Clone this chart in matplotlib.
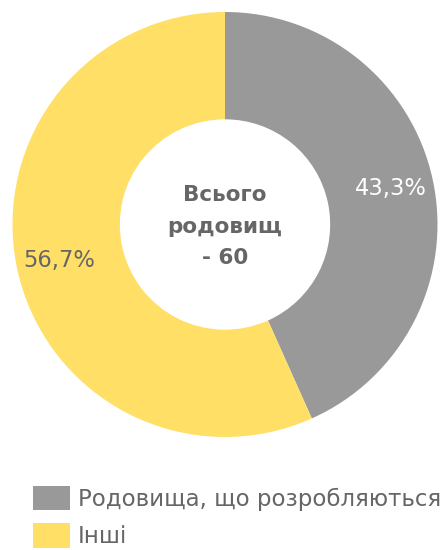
import matplotlib
matplotlib.use("Agg")
import matplotlib.pyplot as plt
import numpy as np

labels = ["Родовища, що розробляються", "Інші"]
values = [43.3, 56.7]
pct_labels = ["43,3%", "56,7%"]
colors = ["#999999", "#FFDF66"]
pct_colors = ["#FFFFFF", "#666666"]
center_text = "Всього\nродовищ\n- 60"

plt.rcParams['font.family'] = ['DejaVu Sans']

W, H = 445, 550
fig = plt.figure(figsize=(W / 100, H / 100), dpi=100)
cx, cy, R = 225, 224.5, 212.5
ax = fig.add_axes([(cx - R) / W, 1 - (cy + R) / H, 2 * R / W, 2 * R / H])
wedges, _ = ax.pie(values, colors=colors, startangle=90, counterclock=False,
                   radius=1.0, wedgeprops=dict(width=0.505, linewidth=0))
for w, txt, c in zip(wedges, pct_labels, pct_colors):
    ang = np.deg2rad((w.theta1 + w.theta2) / 2)
    ax.text(0.8 * np.cos(ang), 0.8 * np.sin(ang), txt, ha='center', va='center',
            fontsize=16.3, color=c)
ax.text(0, -0.01, center_text, ha='center', va='center', fontsize=15.5,
        fontweight='bold', color='#666666', linespacing=1.72)
ax.set_xlim(-1, 1)
ax.set_ylim(-1, 1)
ax.set_aspect('equal')
ax.axis('off')

leg = fig.legend(wedges, labels, loc='upper left', bbox_to_anchor=(33 / W, 1 - 486 / H),
                 frameon=False, fontsize=16.5, handlelength=1.6, handleheight=1.25,
                 handletextpad=0.35, labelspacing=0.55, borderpad=0, borderaxespad=0)
for t in leg.get_texts():
    t.set_color('#666666')

fig.savefig("out.png", dpi=100)
